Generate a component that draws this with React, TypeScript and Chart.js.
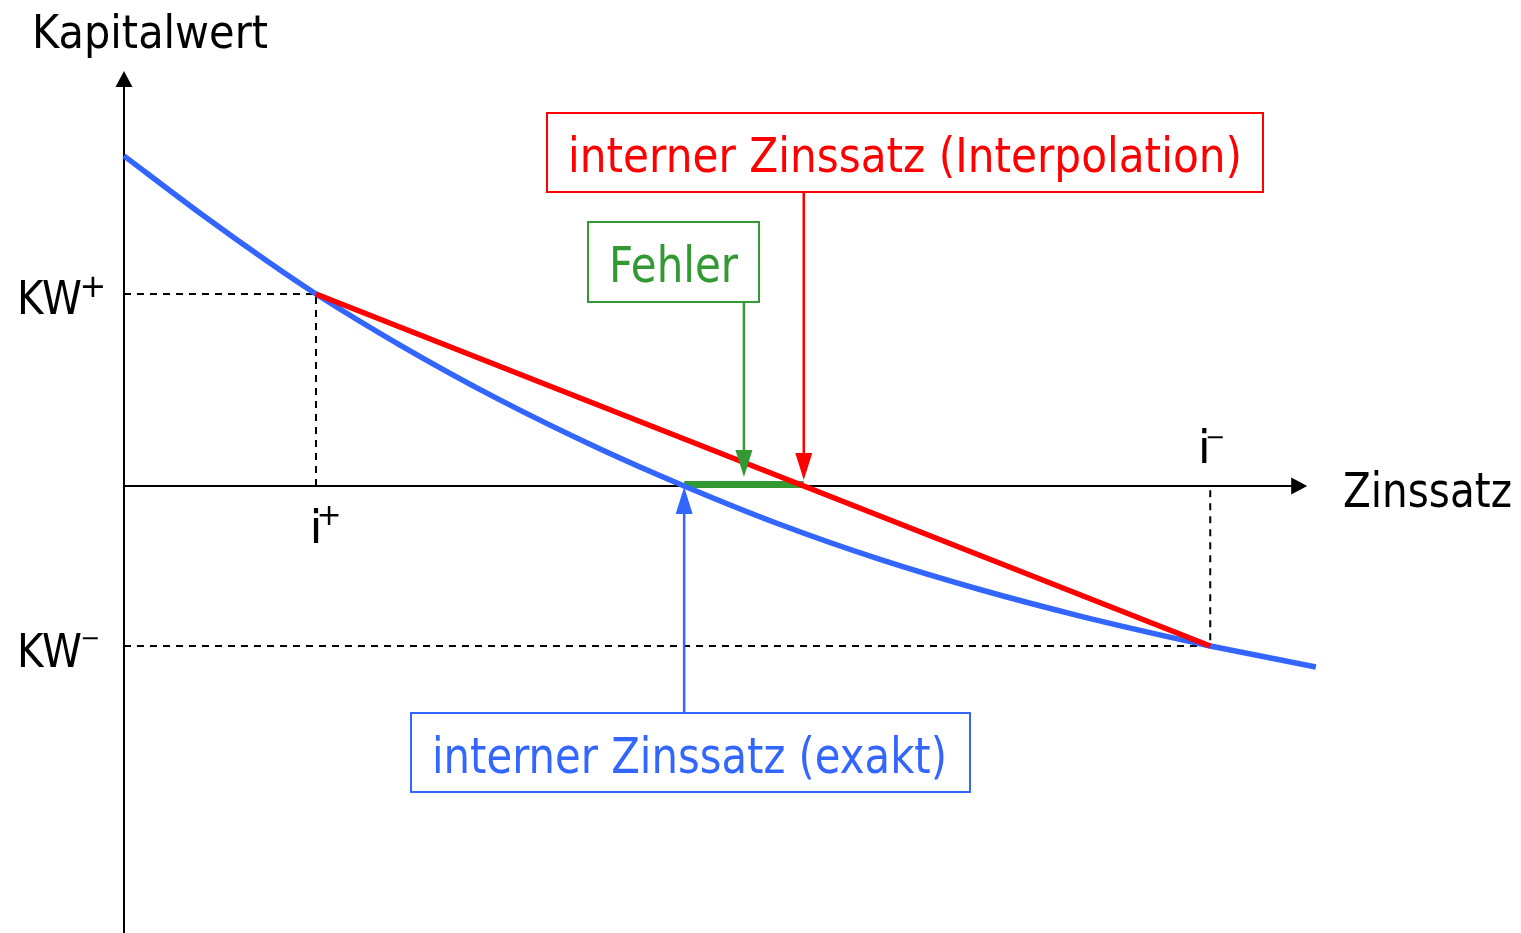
import React, { useEffect, useRef } from "react";
import { Chart, registerables } from "chart.js";

Chart.register(...registerables);

// ---- data (interest rate in %, Kapitalwert in arbitrary units) ----
const blueRates = [0, 1.58, 2.98, 4.0, 5.75, 7.83, 9.92, 11.67, 13.67, 15.75, 17.83, 19.92, 22.0, 22.63, 24.83];
const blueValues = [20.63, 17.06, 14.06, 12.0, 8.81, 5.38, 2.31, 0, -2.41, -4.59, -6.47, -8.13, -9.59, -10.0, -11.31];

const iPlus = 4.0;
const iMinus = 22.63;
const kwPlus = 12;
const kwMinus = -10;
const irrExact = 11.67;
// linear interpolation between (i+, KW+) and (i-, KW-)
const irrInterp = iPlus + (kwPlus * (iMinus - iPlus)) / (kwPlus - kwMinus);

// axis extents
const xRange = [-2.583, 29.104];
const yRange = [-27.94, 30.375];
const xAxisEnd = 24.65;
const yAxisEnd = 25.94;

const labels = {
  yTitle: "Kapitalwert",
  xTitle: "Zinssatz",
  kw: "KW",
  i: "i",
  interp: "interner Zinssatz (Interpolation)",
  exact: "interner Zinssatz (exakt)",
  error: "Fehler",
};

const BLUE = "#3366ff";
const RED = "#ff0000";
const GREEN = "#339933";
const FONT = '"DejaVu Sans"';

function fitText(ctx: CanvasRenderingContext2D, text: string, left: number, baseline: number, size: number, width: number, color: string) {
  ctx.save();
  ctx.font = `${size}px ${FONT}`;
  ctx.fillStyle = color;
  ctx.textAlign = "left";
  ctx.textBaseline = "alphabetic";
  const m = ctx.measureText(text).width;
  ctx.translate(left, baseline);
  ctx.scale(width / m, 1);
  ctx.fillText(text, 0, 0);
  ctx.restore();
}

function centerGlyph(ctx: CanvasRenderingContext2D, text: string, cx: number, cy: number, size: number, color: string) {
  ctx.save();
  ctx.font = `${size}px ${FONT}`;
  ctx.fillStyle = color;
  ctx.textAlign = "left";
  ctx.textBaseline = "alphabetic";
  const m = ctx.measureText(text);
  const l = m.actualBoundingBoxLeft;
  const r = m.actualBoundingBoxRight;
  const a = m.actualBoundingBoxAscent;
  const d = m.actualBoundingBoxDescent;
  const x = cx - (r - l) / 2 + l;
  const y = cy + (a - d) / 2;
  ctx.fillText(text, x, y);
  ctx.restore();
}

function arrowHead(ctx: CanvasRenderingContext2D, x: number, tipY: number, dir: number, len: number, half: number, color: string) {
  ctx.beginPath();
  ctx.moveTo(x, tipY);
  ctx.lineTo(x - half, tipY - dir * len);
  ctx.lineTo(x + half, tipY - dir * len);
  ctx.closePath();
  ctx.fillStyle = color;
  ctx.fill();
}

function vArrow(ctx: CanvasRenderingContext2D, x: number, fromY: number, tipY: number, color: string) {
  const dir = tipY > fromY ? 1 : -1;
  const len = 27;
  ctx.save();
  ctx.strokeStyle = color;
  ctx.lineWidth = 2.5;
  ctx.beginPath();
  ctx.moveTo(x, fromY);
  ctx.lineTo(x, tipY - dir * len);
  ctx.stroke();
  arrowHead(ctx, x, tipY, dir, len, 8.5, color);
  ctx.restore();
}

function box(ctx: CanvasRenderingContext2D, x: number, y: number, w: number, h: number, color: string) {
  ctx.save();
  ctx.strokeStyle = color;
  ctx.lineWidth = 2;
  ctx.strokeRect(x, y, w, h);
  ctx.restore();
}

const diagramPlugin = {
  id: "diagram",
  beforeDatasetsDraw(chart: any) {
    const ctx: CanvasRenderingContext2D = chart.ctx;
    const X = (v: number) => chart.scales.x.getPixelForValue(v);
    const Y = (v: number) => chart.scales.y.getPixelForValue(v);
    ctx.save();
    ctx.strokeStyle = "#000";
    ctx.lineWidth = 2;
    // y axis
    const x0 = X(0);
    const yTop = Y(yAxisEnd);
    ctx.beginPath();
    ctx.moveTo(x0, Y(yRange[0]));
    ctx.lineTo(x0, yTop + 15);
    ctx.stroke();
    arrowHead(ctx, x0, yTop, -1, 16, 8.5, "#000");
    // x axis
    const y0 = Y(0);
    const xEnd = X(xAxisEnd);
    ctx.beginPath();
    ctx.moveTo(x0, y0);
    ctx.lineTo(xEnd - 15, y0);
    ctx.stroke();
    ctx.beginPath();
    ctx.moveTo(xEnd, y0);
    ctx.lineTo(xEnd - 16, y0 - 8.5);
    ctx.lineTo(xEnd - 16, y0 + 8.5);
    ctx.closePath();
    ctx.fillStyle = "#000";
    ctx.fill();
    ctx.restore();
  },
  afterDatasetsDraw(chart: any) {
    const ctx: CanvasRenderingContext2D = chart.ctx;
    const X = (v: number) => chart.scales.x.getPixelForValue(v);
    const Y = (v: number) => chart.scales.y.getPixelForValue(v);
    const y0 = Y(0);

    // axis titles
    fitText(ctx, labels.yTitle, 32, 48, 46, 236, "#000");
    fitText(ctx, labels.xTitle, 1343, y0 + 21, 48, 169, "#000");

    // KW+ / KW-
    fitText(ctx, labels.kw, 17, Y(kwPlus) + 20, 47, 65, "#000");
    centerGlyph(ctx, "+", 96, Y(kwPlus) - 7, 32, "#000");
    fitText(ctx, labels.kw, 17, Y(kwMinus) + 21, 47, 65, "#000");
    centerGlyph(ctx, "\u2212", 92, Y(kwMinus) - 7, 24, "#000");

    // i+ / i-
    ctx.save();
    ctx.font = `47px ${FONT}`;
    ctx.fillStyle = "#000";
    ctx.textAlign = "center";
    ctx.fillText(labels.i, X(iPlus), y0 + 57);
    ctx.fillText(labels.i, X(iMinus) - 6, y0 - 23);
    ctx.restore();
    centerGlyph(ctx, "+", 332, y0 + 29, 30, "#000");
    centerGlyph(ctx, "\u2212", 1217, y0 - 48, 24, "#000");

    // red callout
    box(ctx, 547, 113, 716, 79, RED);
    fitText(ctx, labels.interp, 568, 172, 48, 674, RED);
    vArrow(ctx, X(irrInterp), 193, y0 - 6, RED);

    // green callout
    box(ctx, 588, 222, 171, 80, GREEN);
    fitText(ctx, labels.error, 609, 282, 50, 129, GREEN);
    vArrow(ctx, X((irrExact + irrInterp) / 2), 303, y0 - 9, GREEN);

    // blue callout
    box(ctx, 411, 713, 559, 79, BLUE);
    fitText(ctx, labels.exact, 432, 773, 49, 515, BLUE);
    vArrow(ctx, X(irrExact), 712, y0 + 1, BLUE);
  },
};

export default function App() {
  const ref = useRef<HTMLCanvasElement>(null);
  useEffect(() => {
    document.body.style.margin = "0";
    const canvas = ref.current!;
    const chart = new Chart(canvas, {
      type: "scatter",
      data: {
        datasets: [
          {
            label: "Interpolation",
            data: [
              { x: iPlus, y: kwPlus },
              { x: iMinus, y: kwMinus },
            ],
            showLine: true,
            borderColor: RED,
            borderWidth: 5.5,
            pointRadius: 0,
            order: 1,
          },
          {
            label: "Kapitalwert",
            data: blueRates.map((r, k) => ({ x: r, y: blueValues[k] })),
            showLine: true,
            borderColor: BLUE,
            borderWidth: 5.5,
            pointRadius: 0,
            cubicInterpolationMode: "monotone",
            order: 2,
          },
          {
            label: "Fehler",
            data: [
              { x: irrExact, y: 0.1 },
              { x: irrInterp, y: 0.1 },
            ],
            showLine: true,
            borderColor: GREEN,
            borderWidth: 7,
            pointRadius: 0,
            order: 3,
          },
          {
            label: "KW+",
            data: [
              { x: 0, y: kwPlus },
              { x: iPlus, y: kwPlus },
              { x: iPlus, y: 0 },
            ],
            showLine: true,
            borderColor: "#000",
            borderWidth: 2,
            borderDash: [7, 6],
            pointRadius: 0,
            order: 5,
          },
          {
            label: "KW-",
            data: [
              { x: 0, y: kwMinus },
              { x: iMinus, y: kwMinus },
              { x: iMinus, y: 0 },
            ],
            showLine: true,
            borderColor: "#000",
            borderWidth: 2,
            borderDash: [7, 6],
            pointRadius: 0,
            order: 5,
          },
        ],
      },
      options: {
        responsive: false,
        animation: false,
        devicePixelRatio: 1,
        layout: { padding: 0 },
        plugins: { legend: { display: false }, tooltip: { enabled: false } },
        scales: {
          x: { type: "linear", min: xRange[0], max: xRange[1], display: false },
          y: { type: "linear", min: yRange[0], max: yRange[1], display: false },
        },
      },
      plugins: [diagramPlugin],
    } as any);
    return () => chart.destroy();
  }, []);
  return (
    <div style={{ width: 1521, height: 933 }}>
      <canvas ref={ref} width={1521} height={933} style={{ display: "block" }} />
    </div>
  );
}
